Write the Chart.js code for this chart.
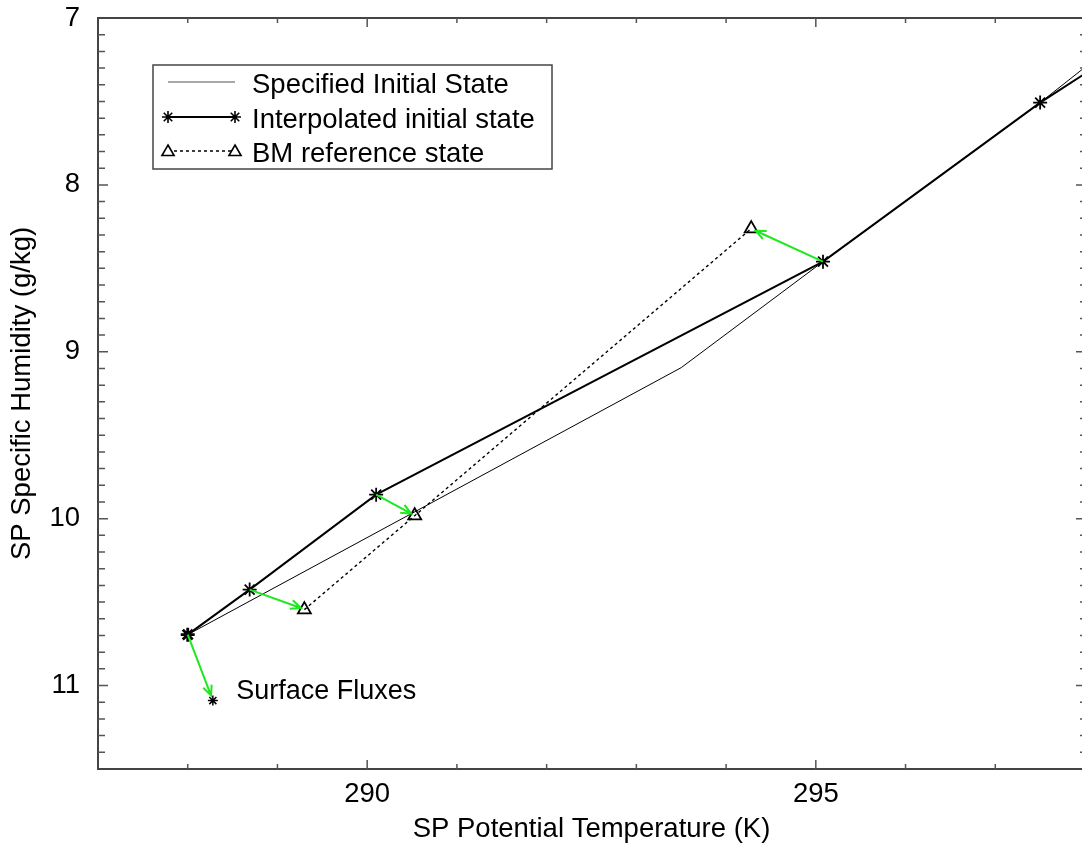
<!DOCTYPE html>
<html><head><meta charset="utf-8">
<script src="https://cdn.jsdelivr.net/npm/chart.js@4"></script>
<style>html,body{margin:0;padding:0;overflow:hidden;background:#fff}#wrap{position:absolute;left:0;top:0;width:1100px;height:847px}</style>
</head><body><div id="wrap"><canvas id="c" width="1100" height="847"></canvas></div>
<script>
// ---- data ----
const specifiedT = [288.0, 293.5, 295.08, 297.5, 298.0];
const specifiedQ = [10.695, 9.095, 8.46, 7.507, 7.295];
const interpT = [288.0, 288.69, 290.10, 295.08, 297.5, 298.5];
const interpQ = [10.695, 10.425, 9.856, 8.46, 7.507, 7.16];
const bmT = [289.3, 290.53, 294.28];
const bmQ = [10.545, 9.982, 8.262];
const surfT = [288.28];
const surfQ = [11.09];
const arrowFromT = [288.0, 288.69, 290.10, 295.08];
const arrowFromQ = [10.695, 10.425, 9.856, 8.46];
const arrowToT = [288.26, 289.26, 290.49, 294.33];
const arrowToQ = [11.06, 10.535, 9.97, 8.275];
const xTicks = [290, 295];
const yTicks = [7, 8, 9, 10, 11];
const xRange = [287, 298];
const yRange = [7, 11.5];
const legendLabels = ['Specified Initial State', 'Interpolated initial state', 'BM reference state'];
const annotationText = 'Surface Fluxes';
const annotationT = 288.54, annotationQ = 11.037;
const xTitle = 'SP Potential Temperature (K)';
const yTitle = 'SP Specific Humidity (g/kg)';

const FONT = "'Liberation Sans', Arial, Helvetica, sans-serif";
const pts = (xs, ys) => xs.map((x, i) => ({x, y: ys[i]}));

function drawStar(ctx, x, y, r, lw) {
  ctx.save(); ctx.strokeStyle = '#000'; ctx.lineWidth = lw; ctx.beginPath();
  for (let k = 0; k < 4; k++) {
    const a = k * Math.PI / 4;
    ctx.moveTo(x - r * Math.cos(a), y - r * Math.sin(a));
    ctx.lineTo(x + r * Math.cos(a), y + r * Math.sin(a));
  }
  ctx.stroke(); ctx.restore();
}
function drawTri(ctx, x, y, r, lw) {
  ctx.save(); ctx.strokeStyle = '#000'; ctx.fillStyle = '#fff'; ctx.lineWidth = lw; ctx.beginPath();
  for (let k = 0; k < 3; k++) {
    const a = -Math.PI / 2 + k * 2 * Math.PI / 3;
    const px = x + r * Math.cos(a), py = y + r * Math.sin(a);
    k ? ctx.lineTo(px, py) : ctx.moveTo(px, py);
  }
  ctx.closePath(); ctx.fill(); ctx.stroke(); ctx.restore();
}

const decor = {
  id: 'decor',
  afterDatasetsDraw(chart) {
    const {ctx, chartArea: a, scales: {x, y}} = chart;
    ctx.save();
    ctx.strokeStyle = '#1ee81e'; ctx.lineWidth = 2;
    for (let i = 0; i < arrowFromT.length; i++) {
      const x0 = x.getPixelForValue(arrowFromT[i]), y0 = y.getPixelForValue(arrowFromQ[i]);
      const x1 = x.getPixelForValue(arrowToT[i]), y1 = y.getPixelForValue(arrowToQ[i]);
      const ang = Math.atan2(y1 - y0, x1 - x0), h = 11, sp = 0.42;
      ctx.beginPath(); ctx.moveTo(x0, y0); ctx.lineTo(x1, y1);
      ctx.moveTo(x1 - h * Math.cos(ang - sp), y1 - h * Math.sin(ang - sp));
      ctx.lineTo(x1, y1);
      ctx.lineTo(x1 - h * Math.cos(ang + sp), y1 - h * Math.sin(ang + sp));
      ctx.stroke();
    }
    ctx.restore();
  },
  afterDraw(chart) {
    const {ctx, chartArea: a, scales: {x, y}} = chart;
    ctx.save();
    ctx.strokeStyle = '#444'; ctx.lineWidth = 2;
    ctx.strokeRect(a.left, a.top, a.right - a.left, a.bottom - a.top);
    ctx.strokeStyle = '#555'; ctx.lineWidth = 1.5;
    ctx.beginPath();
    for (let v = xRange[0] + 1; v < xRange[1]; v++) {
      const px = x.getPixelForValue(v);
      const L = xTicks.includes(v) ? 9 : 5;
      ctx.moveTo(px, a.bottom); ctx.lineTo(px, a.bottom - L);
      ctx.moveTo(px, a.top); ctx.lineTo(px, a.top + L);
    }
    for (let k = 1; k < 45; k++) {
      const v = yRange[0] + k / 10;
      const py = y.getPixelForValue(v);
      const major = k % 10 === 0;
      ctx.moveTo(a.left, py); ctx.lineTo(a.left + (major ? 10 : 7), py);
      ctx.moveTo(a.right, py); ctx.lineTo(a.right - (major ? 9 : 5), py);
    }
    ctx.stroke();
    ctx.fillStyle = '#000'; ctx.font = '27px ' + FONT; ctx.textBaseline = 'middle'; ctx.textAlign = 'left';
    ctx.fillText(annotationText, x.getPixelForValue(annotationT), y.getPixelForValue(annotationQ));
    // legend
    const bx = 153, by = 65, bw = 399, bh = 104;
    ctx.strokeStyle = '#444'; ctx.lineWidth = 1.5; ctx.setLineDash([]);
    ctx.fillStyle = '#fff'; ctx.fillRect(bx, by, bw, bh); ctx.strokeRect(bx, by, bw, bh);
    const rows = [82, 117, 151], sx0 = 168, sx1 = 235;
    ctx.strokeStyle = '#555'; ctx.lineWidth = 1.2;
    ctx.beginPath(); ctx.moveTo(sx0, rows[0]); ctx.lineTo(sx1, rows[0]); ctx.stroke();
    ctx.strokeStyle = '#000'; ctx.lineWidth = 2;
    ctx.beginPath(); ctx.moveTo(sx0, rows[1]); ctx.lineTo(sx1, rows[1]); ctx.stroke();
    drawStar(ctx, sx0, rows[1], 6, 1.6); drawStar(ctx, sx1, rows[1], 6, 1.6);
    ctx.lineWidth = 1.3; ctx.setLineDash([3, 3]);
    ctx.beginPath(); ctx.moveTo(sx0, rows[2]); ctx.lineTo(sx1, rows[2]); ctx.stroke();
    ctx.setLineDash([]);
    drawTri(ctx, sx0, rows[2] + 1, 7, 1.6); drawTri(ctx, sx1, rows[2] + 1, 7, 1.6);
    ctx.fillStyle = '#000'; ctx.font = '27.5px ' + FONT; ctx.textBaseline = 'middle';
    legendLabels.forEach((t, i) => ctx.fillText(t, 252, rows[i] + 3));
    ctx.restore();
  }
};

new Chart(document.getElementById('c'), {
  type: 'scatter',
  data: {
    datasets: [
      {label: legendLabels[0], data: pts(specifiedT, specifiedQ), showLine: true, borderColor: '#000', borderWidth: 1, pointRadius: 0, order: 3},
      {label: legendLabels[1], data: pts(interpT, interpQ), showLine: true, borderColor: '#000', borderWidth: 2,
        pointStyle: 'star', pointRadius: 7, pointBorderColor: '#000', pointBorderWidth: [2.8, 1.8, 1.8, 1.8, 1.8, 1.8], order: 1},
      {label: legendLabels[2], data: pts(bmT, bmQ), showLine: true, borderColor: '#000', borderWidth: 1.4, borderDash: [3, 3],
        pointStyle: 'triangle', pointRadius: 7.5, pointBorderColor: '#000', pointBackgroundColor: 'rgba(255,255,255,0)', pointBorderWidth: 1.8, order: 2},
      {label: annotationText, data: pts(surfT, surfQ), showLine: false, pointStyle: 'star', pointRadius: 5, pointBorderColor: '#000', pointBorderWidth: 1.5, order: 0}
    ]
  },
  options: {
    responsive: false, animation: false, devicePixelRatio: 1,
    layout: {padding: {top: 18, right: 15, bottom: 0, left: 0}},
    plugins: {legend: {display: false}, tooltip: {enabled: false}},
    scales: {
      x: {
        type: 'linear', min: xRange[0], max: xRange[1],
        grid: {display: false, drawTicks: false}, border: {display: false},
        afterBuildTicks: s => { s.ticks = xTicks.map(v => ({value: v})); },
        afterFit: s => { s.height = 78; s.paddingLeft = 0; s.paddingRight = 0; },
        ticks: {color: '#000', font: {family: FONT, size: 27.5}, padding: 9, maxRotation: 0, autoSkip: false},
        title: {display: true, text: xTitle, color: '#000', font: {family: FONT, size: 27.5}, padding: {top: 0, bottom: 1}}
      },
      y: {
        type: 'linear', min: yRange[0], max: yRange[1], reverse: true,
        grid: {display: false, drawTicks: false}, border: {display: false},
        afterBuildTicks: s => { s.ticks = yTicks.map(v => ({value: v})); },
        afterFit: s => { s.width = 98; s.paddingTop = 0; s.paddingBottom = 0; },
        ticks: {color: '#000', font: {family: FONT, size: 27.5}, padding: 18, autoSkip: false},
        title: {display: true, text: yTitle, color: '#000', font: {family: FONT, size: 27.5}, padding: {top: 6, bottom: 0}}
      }
    }
  },
  plugins: [decor]
});
</script></body></html>
